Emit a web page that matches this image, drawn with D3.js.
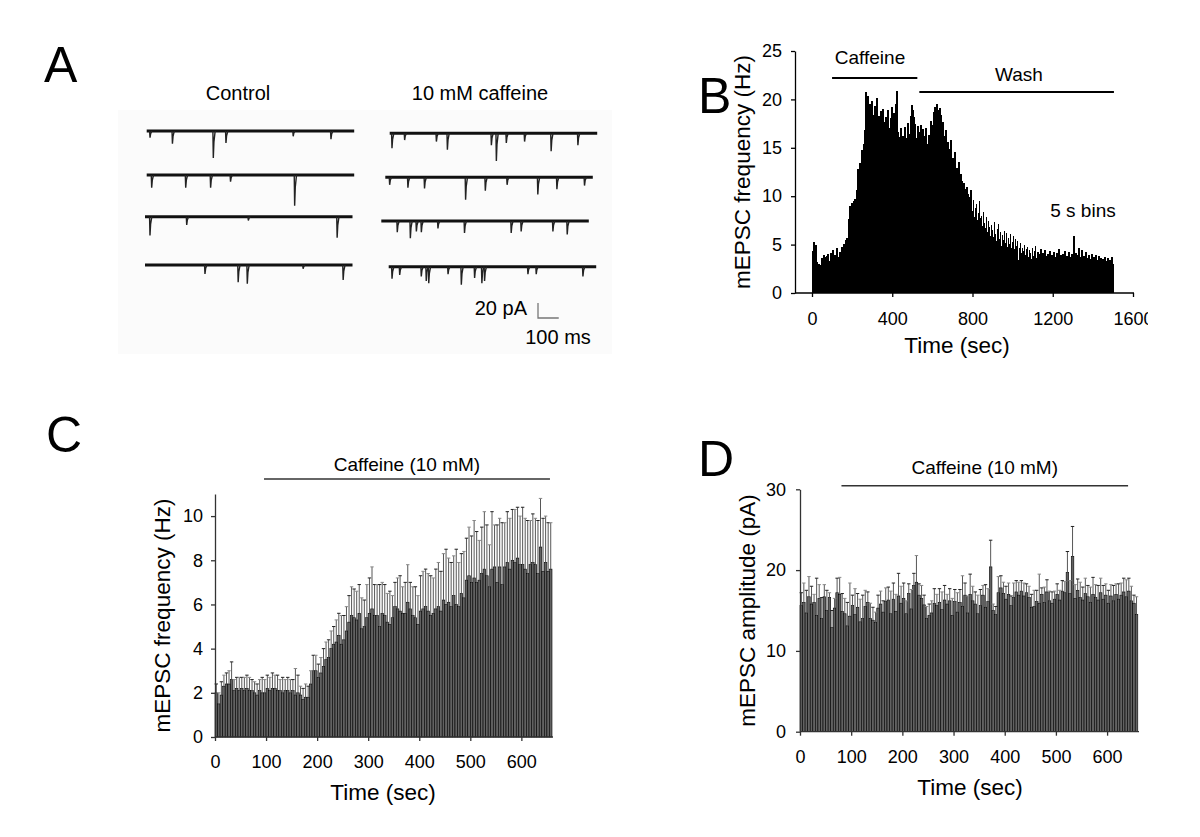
<!DOCTYPE html>
<html>
<head>
<meta charset="utf-8">
<script src="https://cdnjs.cloudflare.com/ajax/libs/d3/7.8.5/d3.min.js"></script>
<style>
body { margin: 0; background: #fff; }
svg { font-family: "Liberation Sans", Arial, sans-serif; }
</style>
</head>
<body>
<svg width="1200" height="837"></svg>
<script>
d3.select(window).on('load', init);
var svg;

//------------------------------------------------------------------------------
// Panel A: miniature events, [time (ms), amplitude (pA)]
var controlEvents = [
    [[16, 9], [124, 17], [321, 36], [382, 16], [706, 7], [888, 11]],
    [[24, 17], [188, 17], [308, 17], [404, 9], [713, 41]],
    [[24, 25], [201, 11], [498, 5], [926, 28]],
    [[289, 12], [449, 23], [493, 25], [762, 5], [955, 20]]
];
var caffeineEvents = [
    [[11, 20], [72, 9], [225, 11], [278, 22], [490, 16], [514, 37], [562, 13], [650, 11], [778, 24], [907, 16]],
    [[21, 10], [109, 14], [189, 15], [387, 30], [482, 18], [587, 10], [735, 23], [827, 16], [960, 11]],
    [[77, 15], [140, 23], [169, 14], [193, 15], [273, 10], [401, 16], [626, 16], [674, 14], [827, 14], [896, 18]],
    [[16, 16], [53, 11], [157, 13], [181, 19], [193, 22], [286, 10], [350, 24], [414, 15], [449, 22], [462, 19], [671, 10], [711, 10], [936, 13]]
];
var traceTitles = ["Control", "10 mM caffeine"];

//------------------------------------------------------------------------------
// Panel B: mEPSC frequency (Hz) in 5 s bins, 0 - 1500 s
var freqBins = [
    4.3, 5.3, 4.0, 5.0, 3.2, 2.6, 3.0, 2.8, 2.9, 3.6,
    3.4, 3.9, 3.1, 3.7, 3.8, 4.0, 3.3, 3.0, 4.1, 3.5,
    4.4, 3.2, 3.9, 3.6, 4.6, 3.7, 3.1, 4.2, 3.9, 4.8,
    4.3, 5.1, 4.7, 5.5, 5.7, 4.9, 7.6, 9.0, 8.6, 9.3,
    9.1, 9.5, 9.7, 9.4, 10.6, 12.8, 12.2, 13.4, 11.9, 14.8,
    14.1, 15.4, 16.8, 20.8, 17.9, 20.4, 18.6, 19.5, 17.2, 19.8,
    18.4, 17.1, 19.3, 18.0, 20.1, 17.6, 18.3, 16.9, 18.8, 17.4,
    19.0, 17.7, 16.3, 18.2, 17.5, 18.9, 17.0, 16.4, 18.1, 19.2,
    17.8, 18.6, 17.3, 19.5, 20.9, 16.6, 14.8, 16.1, 17.0, 15.6,
    16.2, 15.3, 17.1, 16.0, 15.8, 17.6, 15.0, 16.4, 18.3, 19.4,
    18.9, 18.2, 17.5, 16.0, 15.2, 17.3, 16.6, 15.9, 17.4, 15.1,
    16.9, 15.7, 16.2, 17.0, 15.4, 14.9, 16.3, 15.6, 17.8, 16.8,
    17.4, 18.7, 19.2, 18.1, 19.5, 18.9, 17.3, 19.1, 18.4, 16.5,
    17.7, 16.2, 15.3, 16.8, 14.1, 15.6, 14.9, 13.6, 15.8, 12.7,
    13.9, 12.2, 14.6, 11.8, 12.9, 11.1, 13.5, 10.4, 12.3, 11.6,
    9.8, 11.4, 10.7, 9.4, 11.0, 10.2, 8.7, 9.9, 10.6, 8.5,
    9.6, 7.9, 8.8, 9.2, 7.5, 8.3, 9.5, 7.7, 8.0, 6.9,
    8.4, 7.2, 6.7, 7.9, 6.3, 7.4, 6.8, 5.9, 7.0, 6.5,
    5.8, 7.3, 6.1, 5.4, 6.6, 7.1, 5.6, 6.3, 4.9, 6.0,
    5.5, 6.4, 5.2, 6.2, 4.8, 5.7, 5.1, 6.1, 4.6, 5.3,
    5.9, 4.5, 5.6, 4.9, 5.4, 3.4, 4.7, 5.2, 4.1, 4.6,
    4.3, 5.0, 3.9, 4.5, 4.8, 3.7, 4.4, 4.1, 3.5, 4.6,
    3.8, 4.3, 4.9, 3.6, 4.2, 3.3, 4.0, 4.5, 3.7, 4.1,
    3.4, 4.4, 3.8, 3.2, 4.0, 3.6, 4.3, 3.1, 3.9, 3.5,
    4.2, 3.7, 3.3, 4.1, 3.6, 4.5, 3.4, 3.9, 3.2, 4.0,
    3.6, 4.3, 3.1, 3.8, 3.5, 4.2, 2.9, 3.7, 4.0, 3.3,
    5.9, 3.6, 4.1, 3.4, 3.9, 4.6, 3.2, 3.7, 4.4, 3.0,
    3.8, 3.4, 4.2, 3.1, 3.6, 3.9, 2.8, 3.5, 4.0, 3.3,
    3.7, 3.0, 3.9, 3.4, 2.7, 3.8, 3.2, 3.6, 2.9, 3.5,
    3.1, 3.7, 3.3, 2.8, 3.6, 3.0, 3.4, 2.6, 3.7, 3.0
];
var binSize = 5;
var xTicksB = [0, 400, 800, 1200, 1600];
var yTicksB = [0, 5, 10, 15, 20, 25];
var caffeinePeriodB = [100, 525];
var washPeriodB = [535, 1505];

//------------------------------------------------------------------------------
// Panels C and D: mean +/- SEM in 5 s bins, 0 - 660 s
var freqMean = [
    2.0, 1.5, 1.9, 2.3, 2.4, 2.4, 2.6, 2.1, 2.2, 2.1,
    2.2, 2.1, 2.2, 2.1, 2.1, 2.0, 1.9, 2.1, 2.0, 2.0,
    2.2, 2.1, 2.2, 2.2, 2.1, 2.1, 2.0, 2.1, 2.1, 2.0,
    2.1, 1.9, 2.0, 1.9, 1.7, 1.8, 1.8, 2.4, 3.0, 3.0,
    2.7, 2.9, 3.2, 3.5, 3.6, 4.0, 4.2, 4.3, 4.6, 4.2,
    4.4, 4.8, 5.2, 5.5, 5.4, 5.3, 5.6, 4.9, 5.0, 5.4,
    5.6, 5.8, 5.5, 5.5, 5.0, 5.6, 5.5, 5.2, 5.1, 5.4,
    5.9, 5.8, 5.7, 5.6, 5.6, 6.1, 5.8, 5.5, 5.4, 5.1,
    5.7, 5.8, 5.9, 5.7, 5.5, 5.6, 5.8, 5.9, 5.7, 6.2,
    6.0, 6.1, 5.9, 6.4, 6.0, 5.9, 6.5, 6.3, 7.1, 7.3,
    7.0, 7.2, 7.0, 7.1, 7.4, 7.6, 7.3, 6.8, 7.6, 7.7,
    7.0, 7.7, 6.9, 7.7, 7.9, 7.6, 8.0, 7.9, 8.1, 7.8,
    7.8, 7.6, 7.4, 7.8, 7.9, 7.8, 7.4, 8.6, 7.5, 7.9,
    7.5, 7.6
];
var freqSem = [
    0.4, 0.5, 0.6, 0.5, 0.5, 0.6, 0.8, 0.5, 0.5, 0.6,
    0.5, 0.6, 0.6, 0.6, 0.5, 0.5, 0.5, 0.5, 0.7, 0.6,
    0.6, 0.6, 0.7, 0.6, 0.7, 0.5, 0.7, 0.5, 0.6, 0.6,
    0.5, 1.2, 0.8, 0.4, 0.5, 0.6, 0.5, 0.6, 0.7, 0.7,
    0.6, 0.7, 0.8, 0.8, 0.8, 0.8, 0.8, 1.0, 1.0, 1.3,
    1.1, 1.1, 1.2, 1.3, 1.3, 1.3, 1.3, 1.4, 1.2, 1.5,
    1.6, 1.9, 1.4, 1.4, 1.9, 1.4, 1.4, 1.3, 1.5, 1.0,
    1.1, 1.4, 1.6, 1.2, 1.4, 1.7, 1.2, 1.3, 1.4, 1.3,
    1.6, 1.7, 1.7, 1.7, 1.8, 1.6, 1.8, 2.0, 1.8, 2.1,
    2.5, 2.0, 2.0, 1.8, 2.5, 2.0, 1.8, 2.1, 1.9, 2.2,
    2.1, 2.6, 2.3, 1.8, 2.1, 2.6, 2.3, 1.9, 2.6, 1.9,
    2.6, 2.2, 2.8, 2.0, 2.3, 2.3, 2.3, 2.4, 2.3, 2.2,
    2.6, 2.3, 2.4, 2.0, 2.2, 2.1, 2.4, 2.2, 2.4, 2.1,
    2.2, 2.1
];
var ampMean = [
    15.6, 16.0, 14.7, 16.7, 15.8, 16.0, 14.4, 16.5, 14.0, 16.7,
    15.0, 16.6, 12.9, 15.3, 17.2, 17.0, 14.9, 14.6, 13.1, 14.3,
    15.6, 14.5, 15.4, 13.6, 14.0, 15.5, 16.0, 14.0, 13.8, 13.5,
    15.3, 15.8, 14.8, 16.1, 16.3, 14.6, 16.4, 14.9, 16.8, 15.9,
    16.5, 14.6, 17.1, 15.2, 18.1, 18.5, 16.9, 16.5, 15.7, 14.0,
    14.4, 14.7, 15.9, 15.6, 16.0, 15.1, 16.3, 15.8, 16.2, 14.4,
    16.1, 14.8, 16.0, 15.5, 16.9, 14.7, 17.0, 16.2, 15.8, 14.6,
    15.6, 16.9, 15.4, 16.1, 20.4, 15.0, 14.5, 17.2, 17.8, 17.1,
    16.4, 17.0, 15.6, 16.6, 17.3, 16.9, 17.4, 16.8, 17.2, 16.6,
    15.4, 15.5, 16.1, 15.9, 17.0, 16.0, 17.3, 16.2, 15.9, 16.4,
    17.0, 16.3, 17.4, 17.2, 19.7, 17.1, 21.7, 16.5, 17.5, 16.6,
    16.3, 17.1, 16.7, 16.0, 17.0, 16.6, 16.3, 17.2, 16.4, 16.9,
    15.9, 16.8, 16.2, 17.0, 16.4, 16.9, 17.3, 16.7, 17.4, 16.2,
    15.9, 14.5
];
var ampSem = [
    1.6, 2.4, 2.8, 2.5, 2.2, 1.0, 4.6, 1.7, 2.6, 1.5,
    2.5, 0.6, 2.1, 1.2, 1.8, 2.1, 2.2, 1.9, 2.9, 4.1,
    1.3, 3.2, 1.7, 2.8, 2.9, 2.0, 1.3, 1.9, 1.6, 1.3,
    1.6, 1.6, 1.4, 1.7, 1.6, 2.8, 2.0, 2.1, 2.8, 2.1,
    1.9, 1.6, 1.2, 2.4, 1.5, 3.3, 1.4, 1.6, 1.2, 1.5,
    1.4, 1.5, 1.8, 1.4, 1.7, 2.2, 1.8, 1.2, 1.5, 2.1,
    1.5, 2.4, 1.6, 3.8, 1.5, 2.1, 2.5, 1.8, 1.5, 2.3,
    2.0, 1.2, 2.8, 1.6, 3.3, 0.8, 1.0, 2.0, 1.5, 1.4,
    1.6, 1.4, 1.2, 1.8, 1.4, 1.6, 1.3, 1.6, 1.1, 1.4,
    1.6, 2.0, 1.4, 3.6, 0.8, 1.9, 1.5, 1.2, 1.4, 1.0,
    1.3, 1.2, 1.3, 1.4, 2.6, 1.6, 3.7, 1.7, 1.4, 1.9,
    1.6, 1.9, 1.4, 1.9, 2.1, 1.6, 1.8, 1.8, 1.7, 1.4,
    1.6, 1.4, 1.9, 1.3, 1.9, 1.5, 1.7, 2.1, 1.6, 1.8,
    1.0, 2.2
];
var xTicksCD = [0, 100, 200, 300, 400, 500, 600];
var yTicksC = [0, 2, 4, 6, 8, 10];
var yTicksD = [0, 10, 20, 30];
var caffeinePeriodC = [96, 656];
var caffeinePeriodD = [81, 641];
//------------------------------------------------------------------------------

function init() {
    svg = d3.select('svg');
    svg.append("rect").attr("width", 1200).attr("height", 837).attr("fill", "white");

    panelLetter("A", 44, 82);
    panelLetter("B", 698, 113);
    panelLetter("C", 46, 452);
    panelLetter("D", 698, 476);

    drawTraces();
    drawHistogram();
    drawSemBars(
        {x0: 215, x1: 552, y0: 737, y1: 494, yMax: 11, axisEnd: 553},
        freqMean, freqSem, yTicksC, "mEPSC frequency (Hz)", 170, 8,
        caffeinePeriodC, 479, 471, 383, 800);
    drawSemBars(
        {x0: 800, x1: 1137.8, y0: 731.7, y1: 489.3, yMax: 30, axisEnd: 1139},
        ampMean, ampSem, yTicksD, "mEPSC amplitude (pA)", 755, 10,
        caffeinePeriodD, 485.7, 474, 970, 795);
}

function panelLetter(txt, x, y) {
    svg.append("text")
        .attr("x", x).attr("y", y)
        .attr("font-size", 50)
        .attr("fill", "#000")
        .text(txt);
}

//---------------------------------------------------------------------
// Panel A: example current traces

function drawTraces() {
    var g = svg.append("g");
    g.append("rect")
        .attr("x", 118).attr("y", 110)
        .attr("width", 494).attr("height", 244)
        .attr("fill", "#fbfbfb");

    g.append("text").attr("x", 238).attr("y", 100)
        .attr("text-anchor", "middle").attr("font-size", 20)
        .text(traceTitles[0]);
    g.append("text").attr("x", 480).attr("y", 100)
        .attr("text-anchor", "middle").attr("font-size", 20)
        .text(traceTitles[1]);

    var ctrlRows = [{x: 146.7, y: 131}, {x: 146.7, y: 175}, {x: 145, y: 216.7}, {x: 145, y: 265}];
    var cafRows = [{x: 389.7, y: 133.3}, {x: 385.3, y: 177.3}, {x: 381.3, y: 221}, {x: 388.7, y: 266.7}];

    for (var i = 0; i < 4; i++) {
        drawOneTrace(g, controlEvents[i], ctrlRows[i]);
        drawOneTrace(g, caffeineEvents[i], cafRows[i]);
    }

    // scale bar: 20 pA, 100 ms
    var sx = d3.scaleLinear().domain([0, 1000]).range([538, 538 + 207.5]);
    var sy = d3.scaleLinear().domain([0, 20]).range([318, 303]);
    g.append("path")
        .attr("d", d3.line()([[sx(0), sy(20)], [sx(0), sy(0)], [sx(100), sy(0)]]))
        .attr("fill", "none").attr("stroke", "#777").attr("stroke-width", 1.3);
    g.append("text").attr("x", 527).attr("y", 315)
        .attr("text-anchor", "end").attr("font-size", 20).text("20 pA");
    g.append("text").attr("x", 558).attr("y", 344)
        .attr("text-anchor", "middle").attr("font-size", 20).text("100 ms");
}

function drawOneTrace(g, events, row) {
    var x = d3.scaleLinear().domain([0, 1000]).range([row.x, row.x + 207.5]);
    var y = d3.scaleLinear().domain([0, 20]).range([row.y, row.y + 15]);
    var line = d3.line().x(function(d) { return x(d[0]); }).y(function(d) { return y(d[1]); });

    g.append("path")
        .attr("d", line([[0, 0], [1000, 0]]))
        .attr("stroke", "#111").attr("stroke-width", 3).attr("fill", "none");

    g.selectAll(null)
        .data(events)
        .enter()
        .append("path")
        .attr("d", function(d) {
            return line([[d[0] - 2, 0], [d[0], d[1]], [d[0] + 3, d[1] * 0.4], [d[0] + 9, 0]]);
        })
        .attr("stroke", "#222").attr("stroke-width", 1.4).attr("fill", "none");
}

//---------------------------------------------------------------------
// Panel B: frequency histogram

function drawHistogram() {
    var g = svg.append("g");
    var x = d3.scaleLinear().domain([0, 1600]).range([812, 1133]);
    var y = d3.scaleLinear().domain([0, 25]).range([293, 51]);
    var w = x(binSize) - x(0);

    g.selectAll(".histbar")
        .data(freqBins)
        .enter()
        .append("rect")
        .classed("histbar", true)
        .attr("x", function(d, i) { return x(i * binSize); })
        .attr("y", function(d) { return y(d); })
        .attr("width", w + 0.8)
        .attr("height", function(d) { return y(0) - y(d); })
        .attr("shape-rendering", "crispEdges")
        .attr("fill", "#000");

    var ya = g.append("g")
        .attr("transform", "translate(795,0)")
        .call(d3.axisLeft(y).tickValues(yTicksB).tickSize(4).tickPadding(9).tickSizeOuter(0));
    styleAxis(ya, "#000", 18);

    g.append("line")
        .attr("x1", 795).attr("x2", 1134).attr("y1", 293).attr("y2", 293)
        .attr("stroke", "#000").attr("stroke-width", 1.3);

    svg.append("clipPath").attr("id", "clipB")
        .append("rect").attr("x", 700).attr("y", 0).attr("width", 448).attr("height", 400);
    var xa = g.append("g")
        .attr("clip-path", "url(#clipB)")
        .attr("transform", "translate(0,293)")
        .call(d3.axisBottom(x).tickValues(xTicksB).tickFormat(d3.format("d")).tickSize(4).tickPadding(15));
    xa.select(".domain").remove();
    styleAxis(xa, "#000", 18);

    g.append("text")
        .attr("transform", "translate(750,172) rotate(-90)")
        .attr("text-anchor", "middle").attr("font-size", 22.5)
        .text("mEPSC frequency (Hz)");
    g.append("text")
        .attr("x", 957).attr("y", 353)
        .attr("text-anchor", "middle").attr("font-size", 22.5)
        .text("Time (sec)");

    g.append("line")
        .attr("x1", x(caffeinePeriodB[0])).attr("x2", x(caffeinePeriodB[1]))
        .attr("y1", 78).attr("y2", 78)
        .attr("stroke", "#000").attr("stroke-width", 2);
    g.append("line")
        .attr("x1", x(washPeriodB[0])).attr("x2", x(washPeriodB[1]))
        .attr("y1", 92).attr("y2", 92)
        .attr("stroke", "#000").attr("stroke-width", 2);
    g.append("text").attr("x", 870).attr("y", 63.5)
        .attr("text-anchor", "middle").attr("font-size", 19).text("Caffeine");
    g.append("text").attr("x", 1019).attr("y", 80.5)
        .attr("text-anchor", "middle").attr("font-size", 19).text("Wash");
    g.append("text").attr("x", 1083).attr("y", 217)
        .attr("text-anchor", "middle").attr("font-size", 19).text("5 s bins");
}

//---------------------------------------------------------------------
// Panels C, D: binned mean +/- SEM

function drawSemBars(box, mean, sem, yTicks, yLabel, yLabelX, yPad, period, lineY, textY, xLabelX, xLabelY) {
    var g = svg.append("g");
    var x = d3.scaleLinear().domain([0, 660]).range([box.x0, box.x1]);
    var y = d3.scaleLinear().domain([0, box.yMax]).range([box.y0, box.y1]);
    var w = x(binSize) - x(0);
    var axisColor = "#333";

    g.selectAll(".sembar")
        .data(mean)
        .enter()
        .append("rect")
        .classed("sembar", true)
        .attr("x", function(d, i) { return x(i * binSize); })
        .attr("y", function(d) { return y(d); })
        .attr("width", w)
        .attr("height", function(d) { return y(0) - y(d); })
        .attr("fill", "#626262")
        .attr("stroke", "#000")
        .attr("stroke-width", 0.6);

    g.selectAll(".semline")
        .data(mean)
        .enter()
        .append("line")
        .classed("semline", true)
        .attr("x1", function(d, i) { return x(i * binSize) + w / 2; })
        .attr("x2", function(d, i) { return x(i * binSize) + w / 2; })
        .attr("y1", function(d) { return y(d); })
        .attr("y2", function(d, i) { return y(d + sem[i]); })
        .attr("stroke", "#444").attr("stroke-width", 0.9);

    g.selectAll(".semcap")
        .data(mean)
        .enter()
        .append("line")
        .classed("semcap", true)
        .attr("x1", function(d, i) { return x(i * binSize) + w / 2 - 1.7; })
        .attr("x2", function(d, i) { return x(i * binSize) + w / 2 + 1.7; })
        .attr("y1", function(d, i) { return y(d + sem[i]); })
        .attr("y2", function(d, i) { return y(d + sem[i]); })
        .attr("stroke", function(d, i) { return i % 2 ? "#888" : "#222"; })
        .attr("stroke-width", 1);

    var ya = g.append("g")
        .attr("transform", "translate(" + box.x0 + ",0)")
        .call(d3.axisLeft(y).tickValues(yTicks).tickSize(4).tickPadding(yPad).tickSizeOuter(0));
    styleAxis(ya, axisColor, 18);

    g.append("line")
        .attr("x1", box.x0).attr("x2", box.axisEnd).attr("y1", box.y0).attr("y2", box.y0)
        .attr("stroke", axisColor).attr("stroke-width", 1.3);
    var xa = g.append("g")
        .attr("transform", "translate(0," + box.y0 + ")")
        .call(d3.axisBottom(x).tickValues(xTicksCD).tickSize(4).tickPadding(14.5));
    xa.select(".domain").remove();
    styleAxis(xa, axisColor, 18);

    g.append("text")
        .attr("transform", "translate(" + yLabelX + "," + ((box.y0 + box.y1) / 2) + ") rotate(-90)")
        .attr("text-anchor", "middle").attr("font-size", 22.5)
        .text(yLabel);
    g.append("text")
        .attr("x", xLabelX).attr("y", xLabelY)
        .attr("text-anchor", "middle").attr("font-size", 22.5)
        .text("Time (sec)");

    g.append("line")
        .attr("x1", x(period[0])).attr("x2", x(period[1]))
        .attr("y1", lineY).attr("y2", lineY)
        .attr("stroke", "#333").attr("stroke-width", 1.5);
    g.append("text")
        .attr("x", (x(period[0]) + x(period[1])) / 2).attr("y", textY)
        .attr("text-anchor", "middle").attr("font-size", 19)
        .text("Caffeine (10 mM)");
}

function styleAxis(a, color, size) {
    a.attr("font-family", null).attr("font-size", size);
    a.selectAll("path").attr("stroke", color).attr("stroke-width", 1.3);
    a.selectAll("line").attr("stroke", color).attr("stroke-width", 1.3);
    a.selectAll("text").attr("fill", "#000");
}
</script>
</body>
</html>
